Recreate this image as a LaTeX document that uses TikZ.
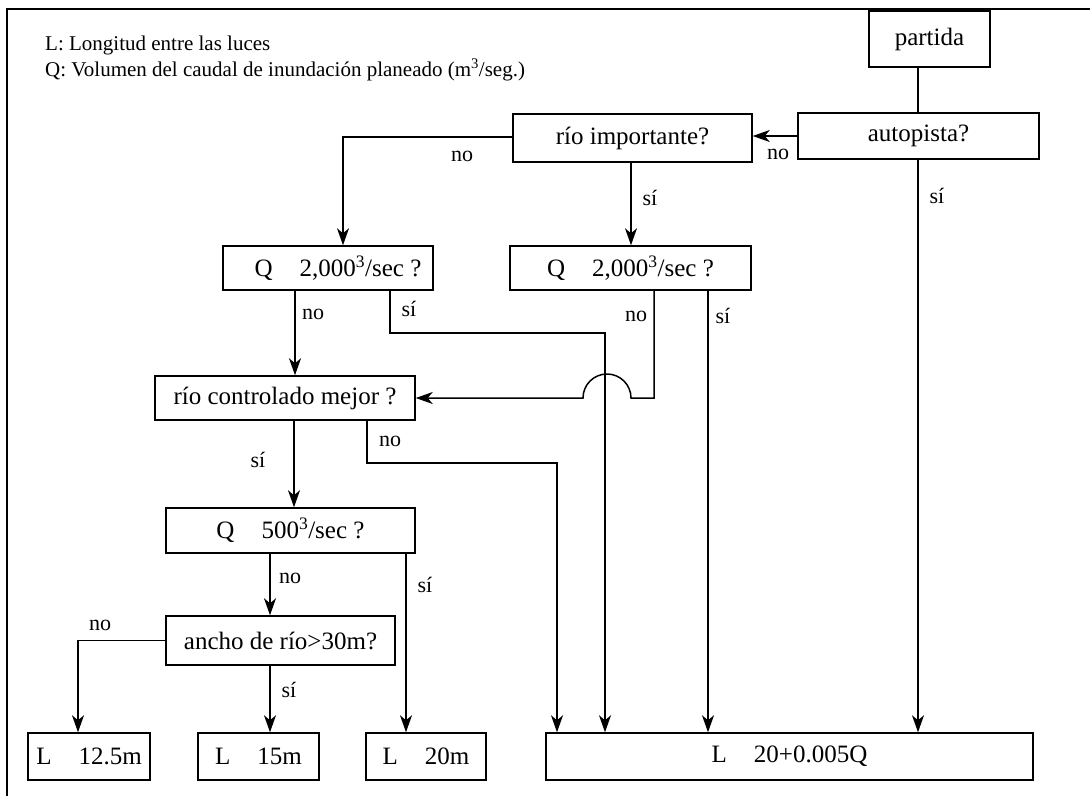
\documentclass[tikz,border=0pt]{standalone}
\usepackage{fontspec}
\setmainfont{Liberation Serif}
\usetikzlibrary{arrows.meta,calc}
\begin{document}
\begin{tikzpicture}[x=1pt,y=-1pt,
  box/.style={draw, line width=1.5pt, inner sep=0pt, font=\fontsize{25}{30}\selectfont},
  lbl/.style={font=\fontsize{22}{26}\selectfont, inner sep=0pt},
  leg/.style={font=\fontsize{21}{25}\selectfont, inner sep=0pt, anchor=base west},
  arr/.style={line width=1.5pt, -{Stealth[length=17pt,width=12pt,inset=5pt]}},
  ln/.style={line width=1.5pt}]
\useasboundingbox (0,0) rectangle (1090,796);
\draw[ln] (7,796) -- (7,9) -- (1090,9);

\node[leg] (leg1) at (45,50) {L: Longitud entre las luces};
\node[leg] (leg2) at (45,76) {Q: Volumen del caudal de inundación planeado (m\textsuperscript{3}/seg.)};

\node[box, minimum width=121pt, minimum height=56pt] (partida) at (929.5,39) {partida};
\node[box, minimum width=241pt, minimum height=46pt] (autopista) at (918.5,136) {autopista?};
\node[box, minimum width=239pt, minimum height=48pt] (rio) at (632.5,138) {río importante?};
\node[box, minimum width=210pt, minimum height=44pt] (q1) at (328,268) {\hspace*{20pt}Q\hspace{27pt}2,000\textsuperscript{3}/sec ?};
\node[box, minimum width=241pt, minimum height=44pt] (q2) at (630.5,268) {Q\hspace{27pt}2,000\textsuperscript{3}/sec ?};
\node[box, minimum width=260pt, minimum height=44pt] (rc) at (285,398) {río controlado mejor ?};
\node[box, minimum width=249pt, minimum height=45pt] (q500) at (290.5,530.5) {Q\hspace{27pt}500\textsuperscript{3}/sec ?};
\node[box, minimum width=229pt, minimum height=49pt] (ancho) at (280.5,640.5) {ancho de río>30m?};
\node[box, minimum width=122pt, minimum height=47pt] (l125) at (89,756.5) {L\hspace{27pt}12.5m};
\node[box, minimum width=121pt, minimum height=47pt] (l15) at (258.5,756.5) {L\hspace{27pt}15m};
\node[box, minimum width=120pt, minimum height=47pt] (l20) at (426,756.5) {L\hspace{27pt}20m};
\node[box, minimum width=487pt, minimum height=47pt] (lbig) at (789.5,756.5) {L\hspace{27pt}20+0.005Q};

\coordinate (c1) at (605,333);
\coordinate (hopE) at (631,398);
\coordinate (c2) at (557,463);

\draw[ln] (partida.south -| 918,0) -- (autopista.north -| 918,0);
\draw[arr] (autopista.west) -- (rio.east |- autopista.west);
\draw[arr] (autopista.south -| 918,0) -- (lbig.north -| 918,0);
\draw[arr] (rio.west |- 0,137) -| (q1.north -| 343,0);
\draw[arr] (rio.south -| 631,0) -- (q2.north -| 631,0);
\draw[arr] (q1.south -| 295,0) -- (rc.north -| 295,0);
\draw[arr] (q1.south -| 390,0) |- (c1) -- (lbig.north -| c1);
\draw[arr] (q2.south -| 654,0) |- (hopE) arc[start angle=0,end angle=180,radius=24pt] -- (rc.east);
\draw[arr] (q2.south -| 708,0) -- (lbig.north -| 708,0);
\draw[arr] (rc.south -| 294,0) -- (q500.north -| 294,0);
\draw[arr] (rc.south -| 367,0) |- (c2) -- (lbig.north -| c2);
\draw[arr] (q500.south -| 270,0) -- (ancho.north -| 270,0);
\draw[arr] (q500.south -| 406,0) -- (l20.north -| 406,0);
\draw[arr] (ancho.west) -| (l125.north -| 78,0);
\draw[arr] (ancho.south -| 270,0) -- (l15.north -| 270,0);

\node[lbl] (t1) at (778,154) {no};
\node[lbl] (t2) at (937,196) {sí};
\node[lbl] (t3) at (462,156) {no};
\node[lbl] (t4) at (650,198) {sí};
\node[lbl] (t5) at (313,314) {no};
\node[lbl] (t6) at (409,309) {sí};
\node[lbl] (t7) at (636,316) {no};
\node[lbl] (t8) at (723,316) {sí};
\node[lbl] (t9) at (258,460) {sí};
\node[lbl] (t10) at (390,441) {no};
\node[lbl] (t11) at (290,578) {no};
\node[lbl] (t12) at (425,585) {sí};
\node[lbl] (t13) at (100,625) {no};
\node[lbl] (t14) at (289,690) {sí};
\end{tikzpicture}
\end{document}
